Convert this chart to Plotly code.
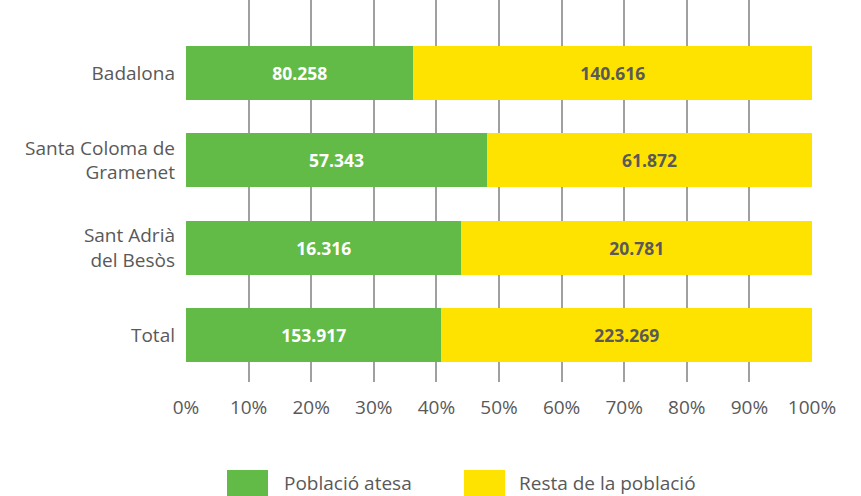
import plotly.graph_objects as go

# Municipalities (top to bottom as displayed)
categories = ["Badalona", "Santa Coloma de<br>Gramenet", "Sant Adrià<br>del Besòs", "Total"]
poblacio_atesa = [80258, 57343, 16316, 153917]
resta_poblacio = [140616, 61872, 20781, 223269]
series_names = ["Població atesa", "Resta de la població"]
x_ticks = [0, 10, 20, 30, 40, 50, 60, 70, 80, 90, 100]

GREEN = "#62BB46"
YELLOW = "#FFE300"
TEXT = "#595959"
FONT = "Open Sans"

# Bottom-to-top order for the category axis
cats = categories[::-1]
atesa = poblacio_atesa[::-1]
resta = resta_poblacio[::-1]
totals = [a + r for a, r in zip(atesa, resta)]


def fmt(v):
    return f"{v:,}".replace(",", ".")


fig = go.Figure()
fig.add_trace(go.Bar(
    y=cats, x=[a / t * 100 for a, t in zip(atesa, totals)], orientation="h",
    name=series_names[0], marker=dict(color=GREEN, line=dict(width=0)),
    text=[fmt(v) for v in atesa], textposition="inside", insidetextanchor="middle",
    textangle=0, textfont=dict(color="white", size=17.5, family=FONT, weight="bold"),
    showlegend=False,
))
fig.add_trace(go.Bar(
    y=cats, x=[r / t * 100 for r, t in zip(resta, totals)], orientation="h",
    name=series_names[1], marker=dict(color=YELLOW, line=dict(width=0)),
    text=[fmt(v) for v in resta], textposition="inside", insidetextanchor="middle",
    textangle=0, textfont=dict(color=TEXT, size=17.5, family=FONT, weight="bold"),
    showlegend=False,
))

# Custom legend: large colour swatches with labels below the chart
legend_items = [(series_names[0], GREEN, 227, 268, 282), (series_names[1], YELLOW, 464, 505, 517)]
W, H = 861, 496
for name, color, x0, x1, xt in legend_items:
    fig.add_shape(type="rect", xref="paper", yref="paper",
                  x0=(x0 - 186) / 626, x1=(x1 - 186) / 626,
                  y0=(382 - 470) / 382, y1=(382 - 497) / 382,
                  fillcolor=color, line=dict(width=0))
    fig.add_annotation(xref="paper", yref="paper", x=(xt - 186) / 626, y=(382 - 483) / 382,
                       text=name, showarrow=False, xanchor="left", yanchor="middle",
                       font=dict(family=FONT, size=19, color=TEXT))

fig.update_layout(
    barmode="stack", bargap=0.38,
    width=W, height=H,
    margin=dict(l=186, r=49, t=0, b=114),
    plot_bgcolor="white", paper_bgcolor="white",
    font=dict(family=FONT, size=19, color=TEXT),
    xaxis=dict(range=[0, 100], tickvals=x_ticks, ticktext=[f"{v}%" for v in x_ticks],
               showgrid=True, gridcolor="#a0a0a0", gridwidth=1.5, zeroline=False,
               showline=False, ticks="", ticklabelstandoff=12,
               tickfont=dict(size=19, color=TEXT)),
    yaxis=dict(range=[-0.538, 3.836], showgrid=False, ticks="", showline=False,
               ticklabelstandoff=10, tickfont=dict(size=19, color=TEXT)),
)

fig.write_html("out.html")
